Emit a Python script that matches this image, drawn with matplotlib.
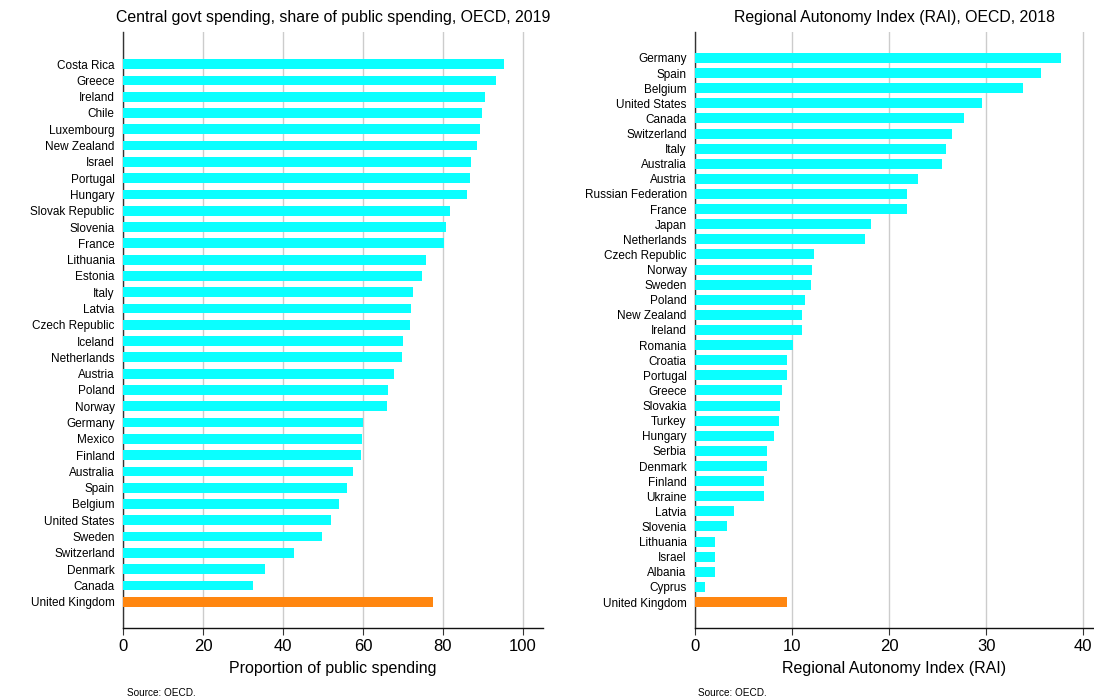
import matplotlib
matplotlib.use("Agg")
import matplotlib.pyplot as plt

plt.rcParams['font.family'] = ['Liberation Sans', 'DejaVu Sans']

# Left chart: central govt spending share (top to bottom)
left_countries = ["Costa Rica", "Greece", "Ireland", "Chile", "Luxembourg", "New Zealand",
                  "Israel", "Portugal", "Hungary", "Slovak Republic", "Slovenia", "France",
                  "Lithuania", "Estonia", "Italy", "Latvia", "Czech Republic", "Iceland",
                  "Netherlands", "Austria", "Poland", "Norway", "Germany", "Mexico", "Finland",
                  "Australia", "Spain", "Belgium", "United States", "Sweden", "Switzerland",
                  "Denmark", "Canada", "United Kingdom"]
left_values = [95.2, 93.2, 90.4, 89.7, 89.2, 88.5, 86.9, 86.7, 85.9, 81.7, 80.8, 80.2,
               75.7, 74.7, 72.4, 71.9, 71.7, 69.9, 69.7, 67.7, 66.2, 65.9, 60.1, 59.7,
               59.4, 57.4, 55.9, 54.0, 51.9, 49.7, 42.7, 35.4, 32.4, 77.4]

# Right chart: Regional Authority Index (top to bottom)
right_countries = ["Germany", "Spain", "Belgium", "United States", "Canada", "Switzerland",
                   "Italy", "Australia", "Austria", "Russian Federation", "France", "Japan",
                   "Netherlands", "Czech Republic", "Norway", "Sweden", "Poland", "New Zealand",
                   "Ireland", "Romania", "Croatia", "Portugal", "Greece", "Slovakia", "Turkey",
                   "Hungary", "Serbia", "Denmark", "Finland", "Ukraine", "Latvia", "Slovenia",
                   "Lithuania", "Israel", "Albania", "Cyprus", "United Kingdom"]
right_values = [37.7, 35.6, 33.8, 29.6, 27.7, 26.5, 25.9, 25.4, 23.0, 21.8, 21.8, 18.1,
                17.5, 12.3, 12.1, 12.0, 11.3, 11.0, 11.0, 10.05, 9.5, 9.5, 9.0, 8.8, 8.7,
                8.1, 7.4, 7.4, 7.1, 7.1, 4.0, 3.3, 2.07, 2.07, 2.07, 1.0, 9.5]

CYAN = "#0affff"
ORANGE = "#ff8610"
GRID = "#cccccc"

fig = plt.figure(figsize=(10.94, 6.99), dpi=100)
ax1 = fig.add_axes([123/1094, 1-628.3/699, 420/1094, 596.6/699])
ax2 = fig.add_axes([695/1094, 1-628.3/699, 399/1094, 596.6/699])


def draw(ax, countries, values, height, xlim, ticks, ylo, yhi, title, xlabel):
    n = len(countries)
    ypos = list(range(n - 1, -1, -1))
    colors = [CYAN] * (n - 1) + [ORANGE]
    ax.barh(ypos, values, height=height, color=colors, zorder=3)
    ax.set_yticks(ypos)
    ax.set_yticklabels(countries, fontsize=8.5)
    ax.set_ylim(ylo, n - 1 + yhi)
    ax.set_xlim(0, xlim)
    ax.set_xticks(ticks)
    ax.set_xticklabels([str(t) for t in ticks], fontsize=12)
    ax.tick_params(axis='y', length=0, pad=6)
    ax.tick_params(axis='x', length=5, width=0.8, color='#333333', pad=3)
    ax.grid(axis='x', color=GRID, linewidth=1.0, zorder=0)
    for s in ['top', 'right']:
        ax.spines[s].set_visible(False)
    ax.spines['left'].set_color('#333333')
    ax.spines['bottom'].set_color('#111111')
    ax.spines['left'].set_linewidth(1.0)
    ax.spines['bottom'].set_linewidth(1.0)
    ax.set_title(title, fontsize=11.4, pad=7)
    ax.set_xlabel(xlabel, fontsize=11.5, labelpad=5)


draw(ax1, left_countries, left_values, 0.6, 105, [0, 20, 40, 60, 80, 100],
     -1.63, 1.99, "Central govt spending, share of public spending, OECD, 2019",
     "Proportion of public spending")
draw(ax2, right_countries, right_values, 0.66, 41.1, [0, 10, 20, 30, 40],
     -1.74, 1.74, "Regional Autonomy Index (RAI), OECD, 2018",
     "Regional Autonomy Index (RAI)")

fig.text(127/1094, 1-692.5/699, "Source: OECD.", fontsize=7.2, va='center', ha='left')
fig.text(698/1094, 1-692.5/699, "Source: OECD.", fontsize=7.2, va='center', ha='left')

fig.savefig("out.png", dpi=100)
